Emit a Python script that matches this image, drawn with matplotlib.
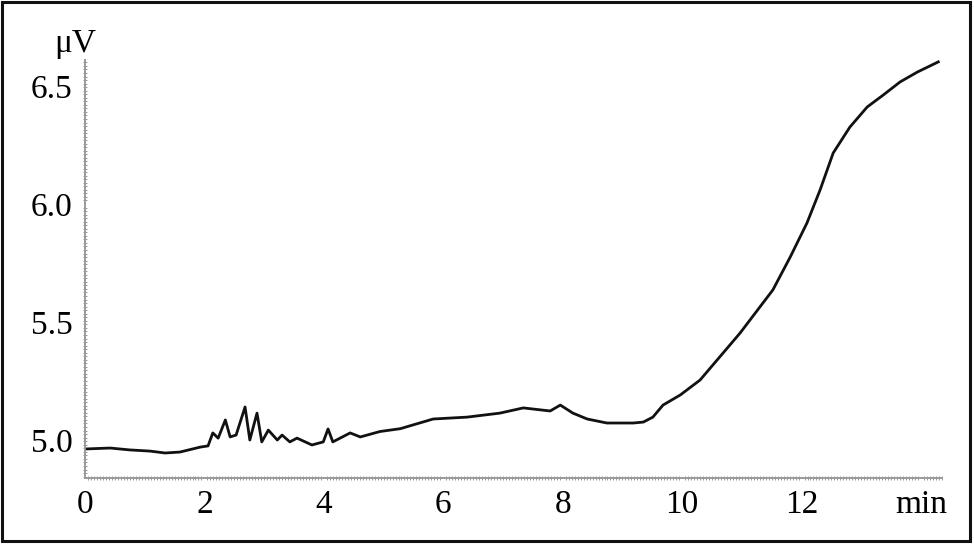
import matplotlib

matplotlib.use("Agg")

import matplotlib.pyplot as plt
from matplotlib.patches import Rectangle
from matplotlib.ticker import MultipleLocator

# retention time (min) and detector signal (uV)
time_min = [
    0.00, 0.42, 0.75, 1.09, 1.34, 1.59, 1.93, 2.06, 2.14, 2.23,
    2.35, 2.43, 2.53, 2.68, 2.76, 2.88, 2.96, 3.07, 3.22, 3.30,
    3.43, 3.55, 3.80, 3.99, 4.07, 4.15, 4.44, 4.61, 4.94, 5.28,
    5.83, 6.40, 6.95, 7.34, 7.79, 7.96, 8.17, 8.41, 8.74, 9.18,
    9.35, 9.51, 9.68, 9.97, 10.30, 10.97, 11.52, 11.81, 12.09, 12.31,
    12.53, 12.81, 13.10, 13.37, 13.65, 13.94, 14.29,
]
signal_uv = [
    4.962, 4.966, 4.958, 4.953, 4.945, 4.949, 4.970, 4.975, 5.030, 5.008,
    5.085, 5.013, 5.021, 5.140, 5.000, 5.114, 4.992, 5.042, 5.000, 5.021,
    4.992, 5.008, 4.979, 4.992, 5.047, 4.992, 5.030, 5.013, 5.036, 5.048,
    5.089, 5.097, 5.114, 5.136, 5.123, 5.148, 5.114, 5.089, 5.072, 5.072,
    5.076, 5.097, 5.148, 5.191, 5.254, 5.453, 5.636, 5.775, 5.919, 6.059,
    6.216, 6.326, 6.411, 6.462, 6.517, 6.559, 6.602,
]

x_ticks = [0, 2, 4, 6, 8, 10, 12, 14]
x_labels = ["0", "2", "4", "6", "8", "10", "12", "min"]
y_ticks = [5.0, 5.5, 6.0, 6.5]
y_labels = ["5.0", "5.5", "6.0", "6.5"]

serif = ["Liberation Serif", "DejaVu Serif"]
plt.rcParams["font.family"] = serif

fig = plt.figure(figsize=(9.74, 5.44), dpi=100)
ax = fig.add_axes([0.0873, 0.1213, 0.8797, 0.7684])

ax.plot(time_min, signal_uv, color="#111111", lw=2.0, solid_joinstyle="round")

ax.set_xlim(0, 14.35)
ax.set_ylim(4.839, 6.610)

ax.set_xticks(x_ticks, x_labels)
ax.set_yticks(y_ticks, y_labels)
ax.xaxis.set_minor_locator(MultipleLocator(0.05))
ax.yaxis.set_minor_locator(MultipleLocator(0.015))

for side in ("top", "right"):
    ax.spines[side].set_visible(False)
for side in ("left", "bottom"):
    ax.spines[side].set_color("#9a9a9a")
    ax.spines[side].set_linewidth(1.4)

ax.tick_params(axis="both", which="major", length=0, labelsize=24, colors="black")
ax.tick_params(axis="x", which="major", pad=8)
ax.tick_params(axis="y", which="major", pad=9)
ax.tick_params(
    axis="both", which="minor", length=2.2, width=0.7, color="#9a9a9a", direction="inout"
)

fig.text(75 / 974, 1 - 52 / 544, "μV", ha="center", va="baseline", fontsize=24)

fig.patches.append(
    Rectangle(
        (0.0021, 0.0055), 0.9938, 0.9908,
        transform=fig.transFigure, fill=False, edgecolor="#111111", lw=2.2,
    )
)

fig.savefig("out.png", dpi=100, facecolor="white")
